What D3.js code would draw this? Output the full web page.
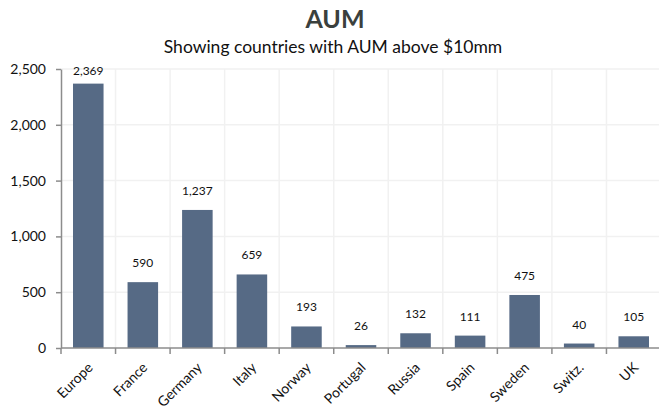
<!DOCTYPE html>
<html>
<head>
<meta charset="utf-8">
<script src="https://cdn.jsdelivr.net/npm/d3@7"></script>
<style>
  html, body { margin: 0; padding: 0; background: #fff; }
  svg text { font-family: Lato, "Open Sans", "Liberation Sans", sans-serif; }
</style>
</head>
<body>
<svg id="chart" width="659" height="411"></svg>
<script>
// AUM by country ($mm)
const categories = ["Europe", "France", "Germany", "Italy", "Norway", "Portugal", "Russia", "Spain", "Sweden", "Switz.", "UK"];
const aum = [2369, 590, 1237, 659, 193, 26, 132, 111, 475, 40, 105];
const yTicks = [0, 500, 1000, 1500, 2000, 2500];

const svg = d3.select("#chart");
const margin = { top: 69, right: -2, bottom: 63, left: 61 };
const W = 659, H = 411;
const x0 = margin.left, x1 = W - margin.right;
const y0 = H - margin.bottom, y1 = margin.top;

const x = d3.scaleBand().domain(categories).range([x0, x1]).paddingInner(0.44).paddingOuter(0.22);
const xb = d3.scaleBand().domain(categories).range([x0, x1]);
const y = d3.scaleLinear().domain([0, 2500]).range([y0, y1]);
const fmt = d3.format(",");

// title
svg.append("text").attr("x", 335).attr("y", 28).attr("text-anchor", "middle")
  .attr("font-size", 25).attr("font-weight", "bold").attr("fill", "#3a403d").text("AUM");
svg.append("text").attr("x", 333).attr("y", 53).attr("text-anchor", "middle")
  .attr("font-size", 17.5).attr("fill", "#111").text("Showing countries with AUM above $10mm");

// gridlines
const grid = svg.append("g");
grid.selectAll("line.h").data(yTicks.slice(1)).join("line")
  .attr("x1", x0).attr("x2", x1).attr("y1", d => y(d)).attr("y2", d => y(d))
  .attr("stroke", "#f1f1f1").attr("stroke-width", 1.5);
grid.selectAll("line.v").data(categories.slice(1)).join("line")
  .attr("x1", d => xb(d)).attr("x2", d => xb(d)).attr("y1", y1).attr("y2", y0)
  .attr("stroke", "#f1f1f1").attr("stroke-width", 1.5);

// bars
svg.append("g").selectAll("rect").data(categories).join("rect")
  .attr("x", d => x(d)).attr("width", x.bandwidth())
  .attr("y", (d, i) => y(aum[i])).attr("height", (d, i) => y0 - y(aum[i]))
  .attr("fill", "#566a85");

// value labels
svg.append("g").selectAll("text").data(categories).join("text")
  .attr("x", d => x(d) + x.bandwidth() / 2)
  .attr("y", (d, i) => Math.max(y(aum[i]) - 15, 75))
  .attr("text-anchor", "middle").attr("font-size", 12).attr("fill", "#111")
  .text((d, i) => fmt(aum[i]));

// y axis
const yAxis = d3.axisLeft(y).tickValues(yTicks).tickFormat(fmt).tickSize(5).tickSizeOuter(0);
const gy = svg.append("g").attr("transform", `translate(${x0},0)`).call(yAxis);
gy.select(".domain").attr("stroke", "#8c8c8c").attr("stroke-width", 1.5);
gy.selectAll(".tick line").attr("stroke", "#8c8c8c").attr("stroke-width", 1.5);
gy.selectAll(".tick text").attr("font-size", 14).attr("fill", "#111").attr("x", -15)
  .style("font-family", "Lato, sans-serif");

// x axis: boundary ticks
const gx = svg.append("g");
gx.append("line").attr("x1", x0).attr("x2", x1).attr("y1", y0).attr("y2", y0)
  .attr("stroke", "#8c8c8c").attr("stroke-width", 1.5);
gx.selectAll("line.t").data(categories).join("line")
  .attr("x1", d => xb(d)).attr("x2", d => xb(d)).attr("y1", y0).attr("y2", y0 + 6)
  .attr("stroke", "#8c8c8c").attr("stroke-width", 1.5);
gx.selectAll("text").data(categories).join("text")
  .attr("transform", d => `translate(${xb(d) + xb.bandwidth() / 2 + 2},${y0 + 17}) rotate(-45)`)
  .attr("text-anchor", "end").attr("dy", "0.35em").attr("font-size", 14).attr("fill", "#111")
  .text(d => d);
</script>
</body>
</html>
